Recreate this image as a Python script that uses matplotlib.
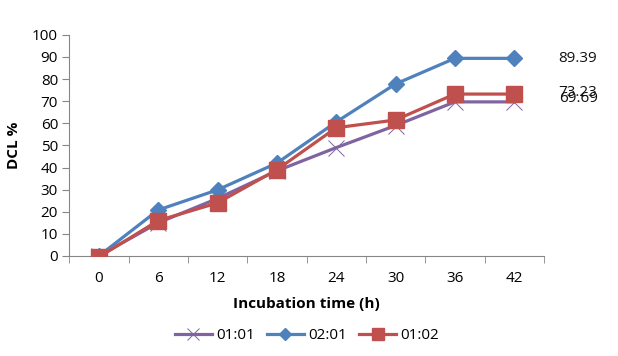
import matplotlib
matplotlib.use("Agg")
import matplotlib.pyplot as plt
from matplotlib.ticker import FixedLocator

hours = ["0", "6", "12", "18", "24", "30", "36", "42"]
r11 = [0, 15, 26, 38.5, 49, 59, 69.69, 69.69]
r21 = [0, 20.8, 29.9, 42, 60.6, 77.8, 89.39, 89.39]
r12 = [-0.5, 16, 24, 39, 58, 61.5, 73.23, 73.23]

plt.rcParams['font.family'] = ['Open Sans', 'DejaVu Sans']

fig = plt.figure(figsize=(6.18, 3.56), dpi=100)
ax = fig.add_axes([0.112, 0.281, 0.768, 0.621])
x = list(range(len(hours)))

ax.plot(x, r11, color='#8064A2', lw=2.3, marker='x', ms=11, mew=0.7, label='01:01', zorder=3)
ax.plot(x, r21, color='#4F81BD', lw=2.3, marker='D', ms=8.5, label='02:01', zorder=4)
ax.plot(x, r12, color='#C0504D', lw=2.3, marker='s', ms=11, label='01:02', zorder=5)

# end labels sit almost on top of each other, as in the original
for vals, dy in [(r21, 0), (r12, 0.8), (r11, 1.5)]:
    ax.text(x[-1] + 0.75, vals[-1] + dy, f"{vals[-1]:.2f}", va='center', ha='left',
            fontsize=11, color='#111111')

ax.set_xlim(-0.5, len(hours) - 0.5)
ax.set_ylim(0, 100)
ax.set_yticks(range(0, 101, 10))
ax.set_xticks(x)
ax.set_xticklabels(hours)
ax.xaxis.set_minor_locator(FixedLocator([i - 0.5 for i in range(len(hours) + 1)]))
ax.tick_params(axis='x', which='major', length=0, pad=11, labelsize=11)
ax.tick_params(axis='x', which='minor', length=5, color='#868686', direction='out')
ax.tick_params(axis='y', length=5, color='#868686', labelsize=11, pad=3)

for s in ['top', 'right']:
    ax.spines[s].set_visible(False)
for s in ['left', 'bottom']:
    ax.spines[s].set_color('#868686')

ax.set_xlabel("Incubation time (h)", fontsize=11, fontweight='bold', labelpad=8)
ax.set_ylabel("DCL %", fontsize=11, fontweight='bold', labelpad=8)

fig.legend(loc='center', bbox_to_anchor=(0.497, 0.057), ncol=3, frameon=False,
           fontsize=11, handlelength=2.4, columnspacing=0.8, handletextpad=0.3,
           markerscale=0.75)

fig.savefig("out.png", dpi=100)
